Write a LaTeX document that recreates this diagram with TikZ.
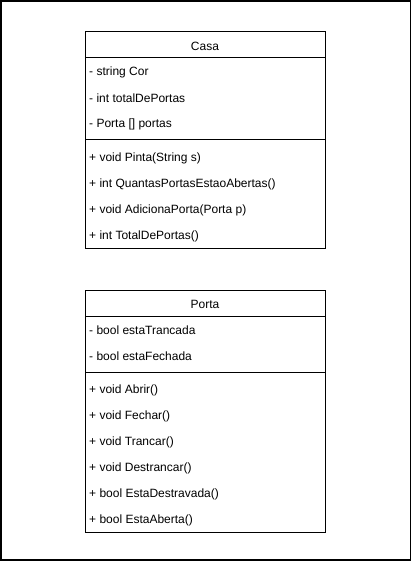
\documentclass[tikz,border=0pt]{standalone}
\usepackage{fontspec}
\setmainfont{Liberation Sans}
\begin{document}
\begin{tikzpicture}[x=1pt,y=-1pt,
  box/.style={draw=black,line width=1pt},
  sep/.style={draw=black,line width=1pt},
  title/.style={font=\fontsize{12}{14}\selectfont,inner sep=0pt,anchor=center},
  item/.style={font=\fontsize{12}{14}\selectfont,inner sep=0pt,anchor=west}]
\useasboundingbox (0,0) rectangle (412,561);
\draw[line width=1.4pt] (1,1) rectangle (410.5,560);
% Casa
\draw[box] (85,32) rectangle (325,248);
\draw[sep] (85,58) -- (325,58);
\draw[sep] (85,140) -- (325,140);
\node[title] (casa) at (205,46) {Casa};
\node[item] (c1) at (89,72) {- string Cor};
\node[item] (c2) at (89,98) {- int totalDePortas};
\node[item] (c3) at (89,124) {- Porta [] portas};
\node[item] (c4) at (89,158) {+ void Pinta(String s)};
\node[item] (c5) at (89,184) {+ int QuantasPortasEstaoAbertas()};
\node[item] (c6) at (89,210) {+ void AdicionaPorta(Porta p)};
\node[item] (c7) at (89,236) {+ int TotalDePortas()};
% Porta
\draw[box] (85,290) rectangle (325,532);
\draw[sep] (85,316) -- (325,316);
\draw[sep] (85,372) -- (325,372);
\node[title] (porta) at (205,304) {Porta};
\node[item] (p1) at (89,330) {- bool estaTrancada};
\node[item] (p2) at (89,356) {- bool estaFechada};
\node[item] (p3) at (89,390) {+ void Abrir()};
\node[item] (p4) at (89,416) {+ void Fechar()};
\node[item] (p5) at (89,442) {+ void Trancar()};
\node[item] (p6) at (89,468) {+ void Destrancar()};
\node[item] (p7) at (89,494) {+ bool EstaDestravada()};
\node[item] (p8) at (89,520) {+ bool EstaAberta()};
\end{tikzpicture}
\end{document}
